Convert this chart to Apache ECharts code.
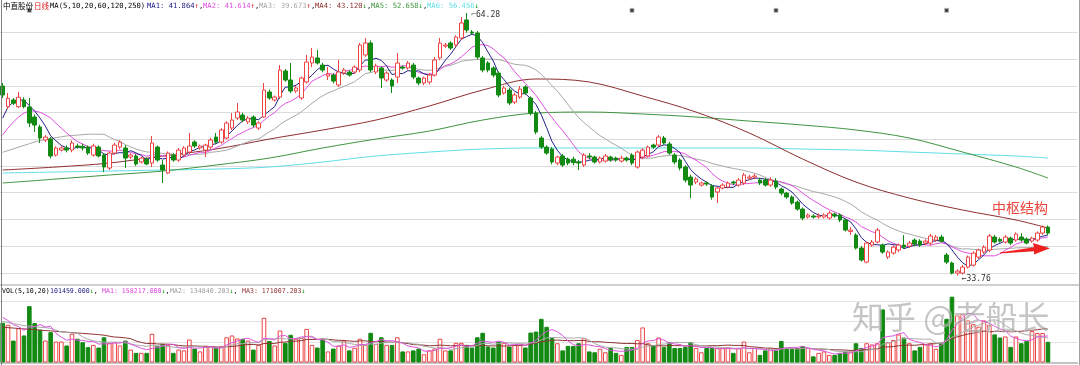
<!DOCTYPE html>
<html><head><meta charset="utf-8">
<script src="https://cdn.jsdelivr.net/npm/echarts@6/dist/echarts.min.js"></script>
<style>html,body{margin:0;padding:0;background:#fff;overflow:hidden}#c{width:1080px;height:365px}</style>
</head><body><div id="c"></div><script>
// ---- daily candles (price) ----
const opens=[55.80,53.40,54.18,53.40,54.18,53.36,52.20,51.04,49.53,49.64,
47.78,48.36,48.60,48.36,48.83,48.80,48.71,47.78,48.71,47.78,
46.27,48.01,48.71,48.60,47.55,47.67,46.97,47.30,46.85,48.71,
46.62,45.69,47.78,47.20,47.78,48.13,49.29,48.60,48.36,48.71,
49.87,49.29,49.76,50.92,52.08,52.43,51.62,52.20,50.92,52.20,
55.11,54.18,54.52,57.55,56.50,55.22,54.41,56.27,58.48,59.06,
58.24,56.96,57.08,55.92,57.31,57.43,57.43,57.66,59.41,60.80,
57.43,57.90,56.50,56.50,56.85,58.01,57.90,58.24,56.73,56.15,
56.27,57.08,59.06,60.45,60.80,60.57,61.38,63.48,62.08,61.96,
59.06,58.48,57.90,57.31,54.99,55.34,53.94,54.52,55.69,54.41,
52.66,49.76,48.71,48.48,46.85,47.67,47.32,47.30,46.97,46.62,
47.67,47.55,46.97,47.08,47.55,47.43,47.08,47.43,47.78,46.39,
47.55,47.67,48.94,48.94,49.76,49.06,47.78,47.20,46.39,45.22,
44.64,44.29,44.53,44.18,43.48,43.95,44.06,44.64,44.29,44.53,
45.10,45.22,44.87,44.87,44.29,44.76,43.83,43.36,42.90,42.32,
41.50,40.57,40.69,40.60,40.57,40.46,40.92,40.81,40.23,38.90,
38.48,36.97,35.34,37.32,37.67,37.32,35.92,36.39,36.74,37.32,
37.20,37.90,37.78,37.55,37.55,37.90,38.25,36.16,35.23,34.06,
34.06,34.76,34.99,35.92,36.51,36.74,38.25,37.99,37.67,38.13,
37.90,38.25,38.02,37.78,37.90,38.71,39.41];
const closes=[54.76,54.37,53.80,54.49,53.40,51.50,51.27,49.76,49.87,47.67,
48.60,48.60,48.36,49.18,48.71,48.60,48.01,48.83,47.67,46.39,
48.01,48.94,49.29,47.43,47.78,46.74,47.43,46.74,49.18,47.20,
46.04,48.01,47.20,48.36,48.60,48.83,48.83,48.83,48.94,49.53,
49.29,50.69,51.50,51.85,52.78,51.85,52.08,51.27,51.50,55.34,
54.41,54.52,57.66,56.50,55.22,55.57,56.73,58.59,59.17,58.48,
57.66,57.20,56.38,57.43,57.66,57.08,58.01,60.57,60.80,57.66,
58.13,56.73,57.31,55.80,58.48,57.90,58.48,56.85,56.15,56.73,
57.08,58.83,60.80,60.57,60.22,61.50,63.13,62.31,61.96,59.17,
57.66,57.66,57.08,54.76,55.57,53.83,54.76,55.45,54.99,52.66,
50.46,48.71,48.01,46.97,47.55,46.62,46.85,46.90,46.85,47.78,
47.55,46.97,47.43,47.67,47.20,47.20,47.43,47.20,46.85,48.13,
48.36,48.71,48.71,49.87,49.18,48.01,46.97,46.27,44.87,44.29,
45.00,44.53,44.41,42.90,43.95,44.29,44.53,44.53,44.87,45.46,
45.22,45.34,44.53,44.29,44.87,44.06,43.36,42.90,42.20,41.50,
40.46,40.81,40.57,40.69,40.81,41.04,40.69,40.23,39.06,39.06,
36.97,35.58,37.55,37.67,39.06,36.51,36.51,37.08,37.32,37.08,
37.55,37.43,37.32,37.78,38.37,38.25,37.78,35.34,34.06,34.29,
34.76,35.92,36.39,36.74,37.08,38.37,37.67,37.78,38.25,37.55,
38.60,37.90,37.55,38.13,38.71,39.41,38.71];
const lows=[54.41,53.13,53.60,53.25,53.20,51.04,50.46,49.18,49.30,47.40,
47.60,48.20,48.10,48.10,48.50,48.30,47.80,47.60,47.50,45.80,
46.04,47.80,48.50,46.27,47.30,46.50,46.80,46.60,46.39,47.00,
44.53,45.57,47.00,47.00,47.60,47.90,48.60,48.40,47.55,48.50,
49.10,49.10,49.60,50.69,51.85,51.60,51.40,51.00,50.70,52.08,
54.20,54.00,54.30,56.30,54.99,55.00,54.20,56.10,58.01,58.30,
57.40,56.50,56.10,55.70,57.10,56.90,57.20,57.40,59.20,57.40,
57.20,55.57,56.30,54.99,56.15,57.70,57.70,56.60,55.90,55.90,
56.00,56.90,58.80,60.20,60.00,60.30,61.20,62.00,61.80,58.90,
57.40,57.40,56.80,54.50,54.80,53.60,53.70,54.30,54.80,52.40,
50.20,48.50,47.80,46.70,46.60,46.40,46.60,46.60,46.04,46.40,
47.30,46.80,46.80,46.90,47.00,47.00,46.90,47.00,46.60,46.20,
47.30,47.50,48.50,48.70,49.00,47.80,46.70,46.00,44.60,42.78,
44.40,44.10,44.20,42.60,42.20,43.80,43.90,44.30,44.10,44.30,
44.90,45.00,44.30,44.10,44.10,43.80,43.10,42.70,42.00,41.30,
40.20,40.40,40.40,40.40,40.40,40.30,40.50,40.00,38.90,38.50,
36.80,35.40,35.20,37.10,37.50,36.30,35.70,36.20,36.50,36.90,
37.00,37.20,37.10,37.30,37.30,37.70,37.60,35.10,33.90,33.76,
33.90,34.60,34.80,35.70,36.30,36.50,37.50,37.60,37.50,37.30,
37.70,37.70,37.40,37.60,37.70,38.50,38.50];
const highs=[56.15,54.99,54.40,55.11,54.50,54.41,52.50,51.30,50.10,49.90,
48.80,48.80,48.90,49.50,49.10,49.10,48.90,49.10,48.90,48.00,
48.20,49.20,49.50,48.94,48.00,47.90,47.60,47.50,49.99,48.90,
47.20,48.20,48.00,48.60,48.80,50.34,49.50,49.00,49.10,49.80,
50.34,50.90,51.70,52.66,53.83,52.70,52.30,52.40,51.70,56.15,
55.40,54.70,58.24,57.80,58.48,55.80,56.90,59.41,60.22,59.99,
58.50,58.01,57.30,58.83,57.90,57.60,58.20,60.80,61.38,61.10,
58.40,58.10,57.50,56.70,59.64,58.20,58.70,58.50,56.90,56.90,
57.30,59.17,61.38,60.80,61.00,61.70,63.82,64.28,62.30,62.20,
59.30,58.70,58.10,57.50,55.80,55.60,55.00,55.80,55.90,54.60,
52.90,50.00,48.90,48.70,47.70,47.90,47.50,47.60,47.20,48.00,
48.00,47.70,47.60,47.90,47.70,47.60,47.70,47.60,48.00,48.30,
48.60,48.90,49.10,50.10,50.00,49.30,48.00,47.40,46.60,45.50,
45.20,44.70,44.70,44.40,44.10,44.50,44.70,44.80,45.10,45.70,
45.50,45.60,45.10,45.10,45.20,45.10,44.00,43.50,43.10,42.50,
41.70,41.00,40.90,41.00,41.00,41.30,41.10,41.00,40.40,39.40,
38.70,37.20,37.70,37.90,39.30,37.50,36.70,37.30,37.50,38.48,
37.80,38.10,38.00,38.00,38.60,38.50,38.50,36.40,35.40,34.50,
35.00,36.10,36.60,36.90,37.30,38.60,38.50,38.20,38.50,38.30,
38.80,38.70,38.20,38.30,38.90,39.60,39.60];
// volume, unit: thousand lots
const volumes=[194,184,107,167,132,275,192,160,107,148,
102,102,83,140,116,99,75,86,73,123,
96,99,83,107,63,47,47,47,140,80,
91,86,47,63,59,112,68,54,78,78,
73,78,123,132,117,116,107,63,86,218,
105,83,156,96,135,116,120,164,86,73,
116,54,68,83,107,59,72,116,86,145,
91,123,86,86,123,54,54,59,68,40,
59,68,116,59,59,96,96,86,73,123,
145,78,73,102,96,78,86,86,73,146,
151,213,174,119,94,59,81,81,94,119,
54,50,67,50,71,47,37,76,76,110,
171,94,84,122,76,99,71,71,76,99,
71,50,71,71,71,71,71,47,71,102,
50,71,37,59,71,59,105,67,67,71,
81,71,30,47,54,37,37,47,54,54,
94,71,94,88,94,259,99,110,137,122,
94,59,76,88,94,67,94,213,321,230,
235,205,187,174,205,184,137,122,127,76,
127,94,105,153,144,144,101];
// moving-average values at the left edge (history before the window)
const ma5Start=[52.08,53.36,53.94,54.18];
const ma10Start=[50.11,50.92,51.62,52.20,52.66,52.90,52.90,52.75,52.45];
const ma20Start=[48.1,48.3,48.5,48.7,48.9,49.1,49.3,49.45,49.6,49.7,49.8,49.9,50.0,50.05,50.1,50.15,50.2,50.2,50.2];
const vma5Start=[220,205,185,175];
const vma10Start=[200,195,190,185,180,178,175,172,170];
const vma20Start=[172,170,168,166,164,162,160,158,156,154,152,150,148,146,144,142,140,138,136];
// long moving averages at these candle indices
const longMaIdx=[0,10,20,30,40,50,60,70,80,90,100,110,120,130,140,150,160,170,180,190,196];
const ma60Vals=[46.04,46.39,46.85,47.67,48.48,49.64,50.69,51.85,53.48,55.34,56.62,56.27,54.64,52.78,50.34,47.32,44.64,42.78,41.39,40.23,39.30];
const ma120Vals=[44.53,44.99,45.46,45.92,46.62,47.43,48.60,49.64,50.57,51.85,52.66,52.78,52.55,52.20,51.73,51.27,50.69,49.76,48.13,46.39,45.11];
const ma250Vals=[45.69,45.81,45.92,46.04,46.15,46.39,46.97,47.67,48.13,48.48,48.60,48.60,48.60,48.60,48.60,48.48,48.36,48.13,47.90,47.67,47.43];
const eventIdx=[5,118,145,177];
const highIdx=87, highVal=64.28, lowIdx=179, lowVal=33.76;
// header texts
const stockName='中直股份', periodName='日线', maParams='MA(5,10,20,60,120,250)';
const maNames=['MA1','MA2','MA3','MA4','MA5','MA6'];
const maValues=['41.864','41.614','39.673','43.120','52.658','56.456'];
const maTrend=['↑','↑','↑','↓','↓','↓'];
const volParams='VOL(5,10,20)';
const volNames=['','MA1','MA2','MA3'];
const volValues=['101459.000','158217.000','134840.203','171007.203'];
const volTrend=['↓','↓','↓','↓'];
const noteText='中枢结构';
const watermark='知乎 @老船长';

const UP='#ee4444', DOWN='#138a13';
const maColors=['#222288','#e050e0','#a8a8a8','#8e2f2f','#3f953f','#5fdfe8'];
const volMaColors=['#dd55dd','#aaaaaa','#8e3434'];
const N=opens.length, PAD=5;
const cats=[]; for(let i=0;i<N+PAD;i++) cats.push(String(i+1));
function movingAvg(vals,n,start){return vals.map((v,i)=>{if(i<n-1)return start[i];let s=0;for(let k=i-n+1;k<=i;k++)s+=vals[k];return +(s/n).toFixed(3);});}
const ma5=movingAvg(closes,5,ma5Start), ma10=movingAvg(closes,10,ma10Start), ma20=movingAvg(closes,20,ma20Start);
const vma5=movingAvg(volumes,5,vma5Start), vma10=movingAvg(volumes,10,vma10Start), vma20=movingAvg(volumes,20,vma20Start);
const pairs=vals=>longMaIdx.map((ix,k)=>[ix,vals[k]]);
const candle=opens.map((o,i)=>[o,closes[i],lows[i],highs[i]]);
const volData=volumes.map((v,i)=>({value:v,itemStyle:closes[i]>=opens[i]?{color:'#ffffff',borderColor:UP,borderWidth:1}:{color:DOWN,borderColor:DOWN,borderWidth:1}}));
const PMIN=31.0, PMAX=65.1, PINT=3.1;

const line=(name,data,color,xi,yi,smooth)=>({name,type:'line',data,xAxisIndex:xi,yAxisIndex:yi,symbol:'none',smooth:smooth||false,lineStyle:{width:1,color},itemStyle:{color},z:3,silent:true});

const mono='"DejaVu Sans Mono", monospace', cjk='"Noto Sans CJK SC", sans-serif';
const g=[];
g.push({type:'rect',shape:{x:0,y:284,width:1080,height:2},style:{fill:'#cfcfcf'},z:1});
g.push({type:'line',shape:{x1:1.5,y1:0,x2:1.5,y2:365},style:{stroke:'#808080',lineWidth:1},z:10});
g.push({type:'line',shape:{x1:1079.5,y1:0,x2:1079.5,y2:365},style:{stroke:'#a0a0a0',lineWidth:1},z:10});
g.push({type:'text',x:3,y:6,style:{text:stockName,font:'7.5px '+cjk,fill:'#000',verticalAlign:'middle'},z:20});
g.push({type:'text',x:34,y:6,style:{text:periodName,font:'7.5px '+cjk,fill:'#e02020',verticalAlign:'middle'},z:20});
g.push({type:'text',x:50,y:6,style:{text:maParams,font:'7.2px '+mono,fill:'#000',verticalAlign:'middle'},z:20});
const maX=[147,203,259,315,371,427];
maNames.forEach((n,k)=>{
  const up=maTrend[k]==='↑';
  g.push({type:'text',x:maX[k],y:6,z:20,style:{text:'{a|'+n+': '+maValues[k]+'}{b|'+maTrend[k]+'}'+(k<5?'{c|,}':''),verticalAlign:'middle',font:'7.2px '+mono,
    rich:{a:{fill:maColors[k],font:'7.2px '+mono},b:{fill:up?'#e02020':'#119911',font:'7.2px '+mono},c:{fill:'#000',font:'7.2px '+mono}}}});
});
g.push({type:'text',x:2,y:291,style:{text:volParams,font:'6.6px '+mono,fill:'#000',verticalAlign:'middle'},z:20});
const volX=[50,102,170,242];
const volCols=['#222288','#dd44dd','#999999','#8e2f2f'];
volValues.forEach((v,k)=>{
  const lab=(volNames[k]?volNames[k]+': ':'')+v;
  g.push({type:'text',x:volX[k],y:291,z:20,style:{text:'{a|'+lab+'}{b|'+volTrend[k]+'}'+(k<3?'{c|,}':''),verticalAlign:'middle',font:'6.6px '+mono,
    rich:{a:{fill:volCols[k],font:'6.6px '+mono},b:{fill:'#119911',font:'6.6px '+mono},c:{fill:'#000',font:'6.6px '+mono}}}});
});
g.push({type:'text',x:992,y:201,style:{text:noteText,font:'14px '+cjk,fill:'#e8463c'},z:20});
g.push({type:'polygon',shape:{points:[[1000,252.5],[1034,247.2],[1033,243],[1050,248.3],[1034,254.5],[1034,251.3],[1000,253.6]]},style:{fill:'#ee2020'},z:20});
g.push({type:'text',x:852,y:301,style:{text:watermark,font:'32px '+cjk,fill:'rgba(150,150,150,0.55)',stroke:'rgba(255,255,255,0.5)',lineWidth:1},z:30});

const chart=echarts.init(document.getElementById('c'),null,{renderer:'canvas'});
chart.setOption({
  animation:false,backgroundColor:'#ffffff',
  grid:[{left:0,right:2.7,top:6.03,height:293.4},{left:0,right:2.7,top:280.5,height:82}],
  xAxis:[
    {type:'category',data:cats,gridIndex:0,boundaryGap:true,show:false},
    {type:'category',data:cats,gridIndex:1,boundaryGap:true,axisLine:{show:true,lineStyle:{color:'#c4c4c4',width:2}},axisTick:{show:false},axisLabel:{show:false}}
  ],
  yAxis:[
    {type:'value',gridIndex:0,min:PMIN,max:PMAX,interval:PINT,scale:false,axisLine:{show:false},axisTick:{show:false},axisLabel:{show:false},
     splitLine:{show:true,showMinLine:false,showMaxLine:false,lineStyle:{color:'#dcdcdc',width:1}}},
    {type:'value',gridIndex:1,min:0,max:400,interval:100,axisLine:{show:false},axisTick:{show:false},axisLabel:{show:false},
     splitLine:{show:true,showMinLine:false,showMaxLine:false,lineStyle:{color:'#e2e2e2',width:1}}}
  ],
  series:[
    line('MA250',pairs(ma250Vals),maColors[5],0,0,0.35),
    line('MA120',pairs(ma120Vals),maColors[4],0,0,0.35),
    line('MA60',pairs(ma60Vals),maColors[3],0,0,0.35),
    line('MA20',ma20,maColors[2],0,0),
    {type:'candlestick',data:candle,xAxisIndex:0,yAxisIndex:0,barWidth:4,z:4,
     itemStyle:{color:'#ffffff',color0:DOWN,borderColor:UP,borderColor0:DOWN,borderWidth:1},
     markPoint:{symbol:'rect',symbolSize:1,itemStyle:{color:'rgba(0,0,0,0)'},animation:false,
       label:{show:true,color:'#333',fontSize:8,fontFamily:'DejaVu Sans Mono'},
       data:[{coord:[highIdx,highVal],value:highVal,label:{position:'right',offset:[-1,2],formatter:'⌐'+highVal.toFixed(2)}},
             {coord:[lowIdx,lowVal],value:lowVal,label:{position:'right',offset:[-1,3],formatter:'←'+lowVal.toFixed(2)}}]}},
    line('MA10',ma10,maColors[1],0,0),
    line('MA5',ma5,maColors[0],0,0),
    {type:'scatter',xAxisIndex:0,yAxisIndex:0,symbol:'rect',symbolSize:4,z:6,itemStyle:{color:'#111',borderColor:'#bbb',borderWidth:1},
     data:eventIdx.map(ix=>[ix,PMAX-0.5])},
    {type:'bar',data:volData,xAxisIndex:1,yAxisIndex:1,barWidth:4.6,z:2},
    line('VMA20',vma20,volMaColors[2],1,1),
    line('VMA10',vma10,volMaColors[1],1,1),
    line('VMA5',vma5,volMaColors[0],1,1)
  ],
  graphic:g
});
</script></body></html>
